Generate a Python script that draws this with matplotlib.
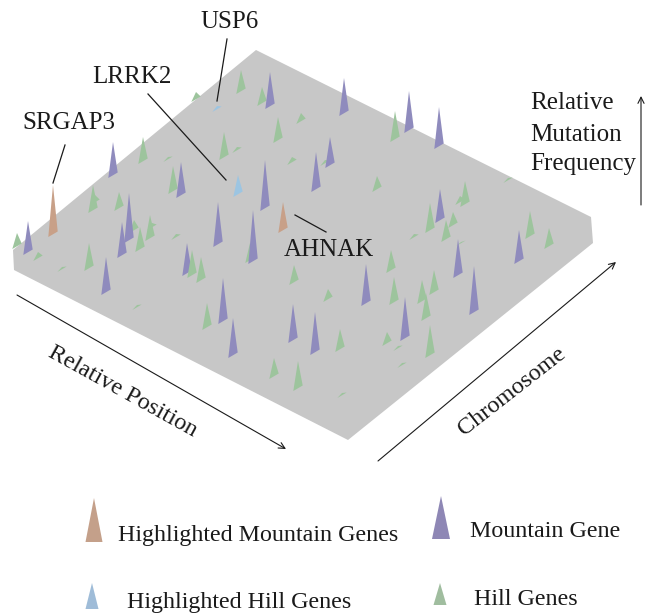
import matplotlib
matplotlib.use("Agg")
import matplotlib.pyplot as plt

plt.rcParams['font.family'] = ['Liberation Serif', 'DejaVu Serif']

# spikes: x, top, bottom (picture pixels)
mountain = [
    (28, 221, 255), (113, 142, 178), (181, 162, 198), (129, 193, 243),
    (122, 222, 258), (106, 257, 295), (218, 202, 247), (265, 160, 211),
    (253, 210, 264), (187, 243, 276), (223, 278, 324), (270, 72, 109),
    (316, 152, 192), (330, 137, 168), (344, 78, 116), (409, 91, 133),
    (439, 107, 149), (440, 189, 223), (458, 239, 278), (519, 230, 264),
    (366, 264, 306), (474, 266, 315), (405, 297, 341), (233, 318, 358),
    (293, 304, 343), (315, 312, 355),
]
hill = [
    (17, 233, 249), (38, 252, 261), (62, 267, 272), (93, 185, 213),
    (95, 195, 205), (119, 192, 211), (143, 137, 164), (168, 157, 162),
    (173, 166, 194), (196, 92, 102), (224, 132, 160), (237, 147, 153),
    (241, 70, 94), (262, 87, 106), (278, 117, 143), (301, 113, 124),
    (292, 157, 165), (134, 220, 233), (140, 227, 252), (150, 215, 241),
    (152, 223, 230), (176, 234, 240), (89, 243, 271), (192, 250, 278),
    (201, 257, 283), (250, 243, 263), (294, 265, 285), (325, 160, 166),
    (328, 289, 302), (395, 111, 142), (377, 176, 192), (508, 178, 183),
    (465, 181, 207), (460, 196, 205), (430, 203, 233), (453, 212, 228),
    (446, 220, 242), (414, 234, 240), (461, 242, 246), (530, 211, 239),
    (549, 228, 249), (391, 250, 273), (394, 277, 305), (434, 270, 295),
    (422, 280, 304), (426, 293, 321), (340, 329, 352), (387, 332, 346),
    (430, 325, 358), (398, 346, 351), (207, 303, 330), (274, 358, 379),
    (298, 361, 391), (402, 363, 368), (342, 393, 398), (137, 305, 310),
]
high_mountain = [(53, 185, 237), (283, 202, 233)]
high_hill = [(238, 175, 197), (217, 106, 112)]

plate = [(256, 50), (591, 217), (593, 243), (348, 440), (14, 270), (13, 250)]

PURPLE = '#8f8bbd'
GREEN = '#9dc49d'
ORANGE = '#c8a088'
BLUE = '#9cc5e2'
GREY = '#c7c7c7'
INK = '#1a1a1a'


def draw_spike(ax, x, top, bottom, color, half=4.7, slant=5.5, z=2):
    ax.fill([x, x - half, x + half], [top, bottom, bottom - slant],
            color=color, lw=0, zorder=z)


def line_arrow(ax, start, end):
    ax.annotate('', xy=end, xytext=start,
                arrowprops=dict(arrowstyle='->', color=INK, lw=0.8,
                                shrinkA=0, shrinkB=0, mutation_scale=11))


fig = plt.figure(figsize=(6.56, 6.13), dpi=100)
ax = fig.add_axes([0, 0, 1, 1])
ax.set_xlim(0, 656)
ax.set_ylim(613, 0)
ax.axis('off')

ax.fill(*zip(*plate), color=GREY, lw=0, zorder=1)

groups = [(mountain, PURPLE), (hill, GREEN),
          (high_mountain, ORANGE), (high_hill, BLUE)]
spikes = []
for items, color in groups:
    for x, top, bottom in items:
        spikes.append((bottom, x, top, color))
# nearer spikes go on top
spikes.sort()
for i, (bottom, x, top, color) in enumerate(spikes):
    draw_spike(ax, x, top, bottom, color, z=2 + i * 0.01)

# gene labels and leader lines
for start, end in [((227, 39), (217, 101)), ((148, 94), (226, 180)),
                   ((65, 145), (53, 183)), ((295, 215), (326, 232))]:
    ax.plot([start[0], end[0]], [start[1], end[1]], color=INK, lw=0.9, zorder=5)

size = 18
ax.text(200, 28, 'USP6', fontsize=size, color=INK)
ax.text(92, 83, 'LRRK2', fontsize=size, color=INK)
ax.text(22, 129, 'SRGAP3', fontsize=size, color=INK)
ax.text(284, 256, 'AHNAK', fontsize=size, color=INK)

# axes arrows
line_arrow(ax, (17, 295), (286, 449))
line_arrow(ax, (378, 461), (616, 262))
line_arrow(ax, (641, 205), (641, 96))

ax.text(123, 392, 'Relative Position', fontsize=17.5, color=INK, rotation=-29,
        ha='center', va='center', rotation_mode='anchor')
ax.text(512, 392, 'Chromosome', fontsize=17.5, color=INK, rotation=38,
        ha='center', va='center', rotation_mode='anchor')
ax.text(530, 109, 'Relative', fontsize=size, color=INK)
ax.text(530, 141, 'Mutation', fontsize=size, color=INK)
ax.text(530, 170, 'Frequency', fontsize=size, color=INK)

# legend
legend_size = 17.3
draw_spike(ax, 94, 498, 542, '#c4a08a', half=8.5, slant=0)
draw_spike(ax, 441, 496, 539, '#8e87b5', half=9, slant=0)
draw_spike(ax, 92, 583, 609, '#9fbcd8', half=6.5, slant=0)
draw_spike(ax, 440, 583, 605, '#a0bd9f', half=6.5, slant=0)
ax.text(118, 541, 'Highlighted Mountain Genes', fontsize=legend_size, color=INK)
ax.text(470, 537, 'Mountain Gene', fontsize=legend_size, color=INK)
ax.text(127, 608, 'Highlighted Hill Genes', fontsize=legend_size, color=INK)
ax.text(474, 605, 'Hill Genes', fontsize=legend_size, color=INK)

fig.savefig('out.png', dpi=100)
